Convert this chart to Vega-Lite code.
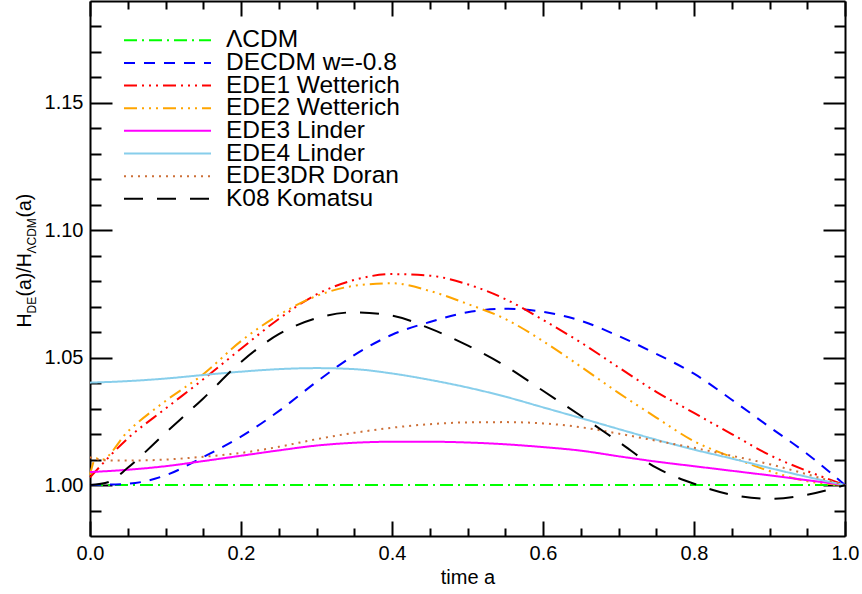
{
  "$schema": "https://vega.github.io/schema/vega-lite/v6.json",
  "width": 755,
  "height": 535,
  "autosize": "none",
  "padding": {"left": 90, "top": 1, "right": 17, "bottom": 58},
  "background": "white",
  "config": {"view": {"stroke": null}, "font": "Liberation Sans"},
  "data": {"values": [
    {"model": "ΛCDM", "a": 0, "H": 1.0},
    {"model": "ΛCDM", "a": 1, "H": 1.0},

    {"model": "DECDM w=-0.8", "a": 0, "H": 1.0},
    {"model": "DECDM w=-0.8", "a": 0.05, "H": 1.0005},
    {"model": "DECDM w=-0.8", "a": 0.1, "H": 1.0038},
    {"model": "DECDM w=-0.8", "a": 0.15, "H": 1.011},
    {"model": "DECDM w=-0.8", "a": 0.2, "H": 1.019},
    {"model": "DECDM w=-0.8", "a": 0.25, "H": 1.029},
    {"model": "DECDM w=-0.8", "a": 0.3, "H": 1.0405},
    {"model": "DECDM w=-0.8", "a": 0.35, "H": 1.051},
    {"model": "DECDM w=-0.8", "a": 0.4, "H": 1.059},
    {"model": "DECDM w=-0.8", "a": 0.45, "H": 1.064},
    {"model": "DECDM w=-0.8", "a": 0.5, "H": 1.0678},
    {"model": "DECDM w=-0.8", "a": 0.55, "H": 1.0692},
    {"model": "DECDM w=-0.8", "a": 0.6, "H": 1.068},
    {"model": "DECDM w=-0.8", "a": 0.65, "H": 1.0645},
    {"model": "DECDM w=-0.8", "a": 0.7, "H": 1.0585},
    {"model": "DECDM w=-0.8", "a": 0.75, "H": 1.0515},
    {"model": "DECDM w=-0.8", "a": 0.8, "H": 1.0437},
    {"model": "DECDM w=-0.8", "a": 0.85, "H": 1.0335},
    {"model": "DECDM w=-0.8", "a": 0.9, "H": 1.0228},
    {"model": "DECDM w=-0.8", "a": 0.95, "H": 1.0122},
    {"model": "DECDM w=-0.8", "a": 1.0, "H": 1.0},

    {"model": "EDE1 Wetterich", "a": 0, "H": 1.003},
    {"model": "EDE1 Wetterich", "a": 0.05, "H": 1.0183},
    {"model": "EDE1 Wetterich", "a": 0.1, "H": 1.030},
    {"model": "EDE1 Wetterich", "a": 0.15, "H": 1.0415},
    {"model": "EDE1 Wetterich", "a": 0.2, "H": 1.0535},
    {"model": "EDE1 Wetterich", "a": 0.25, "H": 1.0652},
    {"model": "EDE1 Wetterich", "a": 0.3, "H": 1.0748},
    {"model": "EDE1 Wetterich", "a": 0.35, "H": 1.0805},
    {"model": "EDE1 Wetterich", "a": 0.4, "H": 1.0828},
    {"model": "EDE1 Wetterich", "a": 0.45, "H": 1.0822},
    {"model": "EDE1 Wetterich", "a": 0.5, "H": 1.0788},
    {"model": "EDE1 Wetterich", "a": 0.55, "H": 1.073},
    {"model": "EDE1 Wetterich", "a": 0.6, "H": 1.0648},
    {"model": "EDE1 Wetterich", "a": 0.65, "H": 1.056},
    {"model": "EDE1 Wetterich", "a": 0.7, "H": 1.0462},
    {"model": "EDE1 Wetterich", "a": 0.75, "H": 1.0366},
    {"model": "EDE1 Wetterich", "a": 0.8, "H": 1.0283},
    {"model": "EDE1 Wetterich", "a": 0.85, "H": 1.020},
    {"model": "EDE1 Wetterich", "a": 0.9, "H": 1.0118},
    {"model": "EDE1 Wetterich", "a": 0.95, "H": 1.0055},
    {"model": "EDE1 Wetterich", "a": 1.0, "H": 1.0},

    {"model": "EDE2 Wetterich", "a": 0, "H": 1.004},
    {"model": "EDE2 Wetterich", "a": 0.008, "H": 1.0105},
    {"model": "EDE2 Wetterich", "a": 0.014, "H": 1.0098},
    {"model": "EDE2 Wetterich", "a": 0.05, "H": 1.021},
    {"model": "EDE2 Wetterich", "a": 0.1, "H": 1.033},
    {"model": "EDE2 Wetterich", "a": 0.15, "H": 1.0435},
    {"model": "EDE2 Wetterich", "a": 0.2, "H": 1.0565},
    {"model": "EDE2 Wetterich", "a": 0.25, "H": 1.0667},
    {"model": "EDE2 Wetterich", "a": 0.3, "H": 1.0742},
    {"model": "EDE2 Wetterich", "a": 0.35, "H": 1.0782},
    {"model": "EDE2 Wetterich", "a": 0.4, "H": 1.0792},
    {"model": "EDE2 Wetterich", "a": 0.45, "H": 1.0762},
    {"model": "EDE2 Wetterich", "a": 0.5, "H": 1.0711},
    {"model": "EDE2 Wetterich", "a": 0.55, "H": 1.0652},
    {"model": "EDE2 Wetterich", "a": 0.6, "H": 1.0565},
    {"model": "EDE2 Wetterich", "a": 0.65, "H": 1.0465},
    {"model": "EDE2 Wetterich", "a": 0.7, "H": 1.0362},
    {"model": "EDE2 Wetterich", "a": 0.75, "H": 1.0265},
    {"model": "EDE2 Wetterich", "a": 0.8, "H": 1.0172},
    {"model": "EDE2 Wetterich", "a": 0.85, "H": 1.011},
    {"model": "EDE2 Wetterich", "a": 0.9, "H": 1.0055},
    {"model": "EDE2 Wetterich", "a": 0.95, "H": 1.0015},
    {"model": "EDE2 Wetterich", "a": 1.0, "H": 1.0},

    {"model": "EDE3 Linder", "a": 0, "H": 1.0051},
    {"model": "EDE3 Linder", "a": 0.05, "H": 1.006},
    {"model": "EDE3 Linder", "a": 0.1, "H": 1.0074},
    {"model": "EDE3 Linder", "a": 0.15, "H": 1.0094},
    {"model": "EDE3 Linder", "a": 0.2, "H": 1.0115},
    {"model": "EDE3 Linder", "a": 0.25, "H": 1.0136},
    {"model": "EDE3 Linder", "a": 0.3, "H": 1.0155},
    {"model": "EDE3 Linder", "a": 0.35, "H": 1.0166},
    {"model": "EDE3 Linder", "a": 0.4, "H": 1.017},
    {"model": "EDE3 Linder", "a": 0.45, "H": 1.017},
    {"model": "EDE3 Linder", "a": 0.5, "H": 1.0167},
    {"model": "EDE3 Linder", "a": 0.55, "H": 1.016},
    {"model": "EDE3 Linder", "a": 0.6, "H": 1.0149},
    {"model": "EDE3 Linder", "a": 0.65, "H": 1.0135},
    {"model": "EDE3 Linder", "a": 0.7, "H": 1.0113},
    {"model": "EDE3 Linder", "a": 0.75, "H": 1.0092},
    {"model": "EDE3 Linder", "a": 0.8, "H": 1.0074},
    {"model": "EDE3 Linder", "a": 0.85, "H": 1.0056},
    {"model": "EDE3 Linder", "a": 0.9, "H": 1.0038},
    {"model": "EDE3 Linder", "a": 0.95, "H": 1.0019},
    {"model": "EDE3 Linder", "a": 1.0, "H": 1.0},

    {"model": "EDE4 Linder", "a": 0, "H": 1.0402},
    {"model": "EDE4 Linder", "a": 0.05, "H": 1.0408},
    {"model": "EDE4 Linder", "a": 0.1, "H": 1.0418},
    {"model": "EDE4 Linder", "a": 0.15, "H": 1.0432},
    {"model": "EDE4 Linder", "a": 0.2, "H": 1.0445},
    {"model": "EDE4 Linder", "a": 0.25, "H": 1.0455},
    {"model": "EDE4 Linder", "a": 0.3, "H": 1.0459},
    {"model": "EDE4 Linder", "a": 0.35, "H": 1.0455},
    {"model": "EDE4 Linder", "a": 0.4, "H": 1.0438},
    {"model": "EDE4 Linder", "a": 0.45, "H": 1.0413},
    {"model": "EDE4 Linder", "a": 0.5, "H": 1.0383},
    {"model": "EDE4 Linder", "a": 0.55, "H": 1.0347},
    {"model": "EDE4 Linder", "a": 0.6, "H": 1.0305},
    {"model": "EDE4 Linder", "a": 0.65, "H": 1.0263},
    {"model": "EDE4 Linder", "a": 0.7, "H": 1.022},
    {"model": "EDE4 Linder", "a": 0.75, "H": 1.0178},
    {"model": "EDE4 Linder", "a": 0.8, "H": 1.0139},
    {"model": "EDE4 Linder", "a": 0.85, "H": 1.0104},
    {"model": "EDE4 Linder", "a": 0.9, "H": 1.0067},
    {"model": "EDE4 Linder", "a": 0.95, "H": 1.0032},
    {"model": "EDE4 Linder", "a": 1.0, "H": 1.0},

    {"model": "EDE3DR Doran", "a": 0, "H": 1.0109},
    {"model": "EDE3DR Doran", "a": 0.02, "H": 1.0097},
    {"model": "EDE3DR Doran", "a": 0.05, "H": 1.0096},
    {"model": "EDE3DR Doran", "a": 0.1, "H": 1.010},
    {"model": "EDE3DR Doran", "a": 0.15, "H": 1.0111},
    {"model": "EDE3DR Doran", "a": 0.2, "H": 1.0126},
    {"model": "EDE3DR Doran", "a": 0.25, "H": 1.015},
    {"model": "EDE3DR Doran", "a": 0.3, "H": 1.018},
    {"model": "EDE3DR Doran", "a": 0.35, "H": 1.0205},
    {"model": "EDE3DR Doran", "a": 0.4, "H": 1.0225},
    {"model": "EDE3DR Doran", "a": 0.45, "H": 1.0239},
    {"model": "EDE3DR Doran", "a": 0.5, "H": 1.0246},
    {"model": "EDE3DR Doran", "a": 0.55, "H": 1.0247},
    {"model": "EDE3DR Doran", "a": 0.6, "H": 1.0242},
    {"model": "EDE3DR Doran", "a": 0.65, "H": 1.0227},
    {"model": "EDE3DR Doran", "a": 0.7, "H": 1.0202},
    {"model": "EDE3DR Doran", "a": 0.75, "H": 1.0174},
    {"model": "EDE3DR Doran", "a": 0.8, "H": 1.0146},
    {"model": "EDE3DR Doran", "a": 0.85, "H": 1.0115},
    {"model": "EDE3DR Doran", "a": 0.9, "H": 1.0082},
    {"model": "EDE3DR Doran", "a": 0.95, "H": 1.0042},
    {"model": "EDE3DR Doran", "a": 1.0, "H": 1.0},

    {"model": "K08 Komatsu", "a": 0, "H": 1.0},
    {"model": "K08 Komatsu", "a": 0.025, "H": 1.0012},
    {"model": "K08 Komatsu", "a": 0.05, "H": 1.0068},
    {"model": "K08 Komatsu", "a": 0.1, "H": 1.0205},
    {"model": "K08 Komatsu", "a": 0.15, "H": 1.034},
    {"model": "K08 Komatsu", "a": 0.2, "H": 1.0483},
    {"model": "K08 Komatsu", "a": 0.25, "H": 1.0592},
    {"model": "K08 Komatsu", "a": 0.3, "H": 1.0655},
    {"model": "K08 Komatsu", "a": 0.35, "H": 1.0678},
    {"model": "K08 Komatsu", "a": 0.4, "H": 1.0665},
    {"model": "K08 Komatsu", "a": 0.45, "H": 1.0615},
    {"model": "K08 Komatsu", "a": 0.5, "H": 1.0548},
    {"model": "K08 Komatsu", "a": 0.55, "H": 1.0468},
    {"model": "K08 Komatsu", "a": 0.6, "H": 1.037},
    {"model": "K08 Komatsu", "a": 0.65, "H": 1.0272},
    {"model": "K08 Komatsu", "a": 0.7, "H": 1.017},
    {"model": "K08 Komatsu", "a": 0.75, "H": 1.0068},
    {"model": "K08 Komatsu", "a": 0.8, "H": 1.0005},
    {"model": "K08 Komatsu", "a": 0.85, "H": 0.9962},
    {"model": "K08 Komatsu", "a": 0.9, "H": 0.9946},
    {"model": "K08 Komatsu", "a": 0.95, "H": 0.9962},
    {"model": "K08 Komatsu", "a": 1.0, "H": 1.0}
  ]},
  "resolve": {"axis": {"x": "independent", "y": "independent"}},
  "layer": [
    {
      "mark": {"type": "line", "strokeWidth": 2, "interpolate": "monotone"},
      "encoding": {
        "x": {"field": "a", "type": "quantitative",
          "scale": {"domain": [0, 1], "nice": false, "zero": false},
          "axis": {"orient": "bottom", "values": [0, 0.2, 0.4, 0.6, 0.8, 1], "format": ".1f",
            "tickSize": -15, "tickWidth": 2, "tickColor": "black", "domainColor": "black", "domainWidth": 2,
            "labelFontSize": 20, "labelFont": "Liberation Sans", "labelColor": "black", "labelPadding": 22,
            "labelFlush": false, "labelOverlap": false, "grid": false,
            "title": "time a", "titleFontSize": 20, "titleFont": "Liberation Sans", "titleFontWeight": "normal",
            "titleColor": "black", "titlePadding": 4}},
        "y": {"field": "H", "type": "quantitative",
          "scale": {"domain": [0.98, 1.19], "nice": false, "zero": false},
          "axis": {"orient": "left", "values": [1, 1.05, 1.1, 1.15], "format": ".2f",
            "tickSize": -22, "tickWidth": 2, "tickColor": "black", "domainColor": "black", "domainWidth": 2,
            "labelFontSize": 20, "labelFont": "Liberation Sans", "labelColor": "black", "labelPadding": 29,
            "labelFlush": false, "labelOverlap": false, "grid": false,
            "title": "H", "titleFontSize": 19.5, "titleFont": "Liberation Sans", "titleFontWeight": "normal",
            "titleColor": "black", "titleX": -60, "titleY": 326, "titleAngle": 270, "titleAlign": "left",
            "titleBaseline": "alphabetic"}},
        "color": {"field": "model", "type": "nominal",
          "scale": {"domain": ["ΛCDM", "DECDM w=-0.8", "EDE1 Wetterich", "EDE2 Wetterich", "EDE3 Linder", "EDE4 Linder", "EDE3DR Doran", "K08 Komatsu"],
            "range": ["#00ff00", "#0000ff", "#ff0000", "#ffa500", "#ff00ff", "#87ceeb", "#cd7038", "#000000"]},
          "legend": {"title": null, "orient": "none", "legendX": 33, "legendY": 29, "symbolType": "stroke",
            "symbolSize": 7569, "symbolStrokeWidth": 2, "clipHeight": 20.5, "rowPadding": -2.35,
            "labelFontSize": 24.5, "labelFont": "Liberation Sans", "labelColor": "black", "labelOffset": 14,
            "padding": 0, "labelLimit": 500}},
        "strokeDash": {"field": "model", "type": "nominal",
          "scale": {"domain": ["ΛCDM", "DECDM w=-0.8", "EDE1 Wetterich", "EDE2 Wetterich", "EDE3 Linder", "EDE4 Linder", "EDE3DR Doran", "K08 Komatsu"],
            "range": [[13, 5, 2, 5], [11, 9], [13, 5, 2, 5, 2, 5, 2, 5], [13, 5, 2, 5, 2, 5, 2, 5], [1, 0], [1, 0], [2, 5], [19, 14]]},
          "legend": {"title": null, "orient": "none", "legendX": 33, "legendY": 29, "symbolType": "stroke",
            "symbolSize": 7569, "symbolStrokeWidth": 2, "clipHeight": 20.5, "rowPadding": -2.35,
            "labelFontSize": 24.5, "labelFont": "Liberation Sans", "labelColor": "black", "labelOffset": 14,
            "padding": 0, "labelLimit": 500}}
      }
    },
    {
      "mark": {"type": "point", "opacity": 0},
      "encoding": {
        "x": {"field": "a", "type": "quantitative", "scale": {"domain": [0, 1], "nice": false, "zero": false},
          "axis": {"orient": "top", "values": [0, 0.2, 0.4, 0.6, 0.8, 1], "labels": false, "title": null,
            "tickSize": -15, "tickWidth": 2, "tickColor": "black", "domainColor": "black", "domainWidth": 2, "grid": false}},
        "y": {"field": "H", "type": "quantitative", "scale": {"domain": [0.98, 1.19], "nice": false, "zero": false},
          "axis": {"orient": "right", "values": [1, 1.05, 1.1, 1.15], "labels": false, "title": null,
            "tickSize": -22, "tickWidth": 2, "tickColor": "black", "domainColor": "black", "domainWidth": 2, "grid": false}}
      }
    },
    {
      "mark": {"type": "point", "opacity": 0},
      "encoding": {
        "x": {"field": "a", "type": "quantitative", "scale": {"domain": [0, 1], "nice": false, "zero": false},
          "axis": {"orient": "bottom", "values": [0.05, 0.1, 0.15, 0.25, 0.3, 0.35, 0.45, 0.5, 0.55, 0.65, 0.7, 0.75, 0.85, 0.9, 0.95],
            "labels": false, "title": null, "domain": false,
            "tickSize": -8, "tickWidth": 2, "tickColor": "black", "grid": false}},
        "y": {"field": "H", "type": "quantitative", "scale": {"domain": [0.98, 1.19], "nice": false, "zero": false},
          "axis": {"orient": "left", "values": [0.99, 1.01, 1.02, 1.03, 1.04, 1.06, 1.07, 1.08, 1.09, 1.11, 1.12, 1.13, 1.14, 1.16, 1.17, 1.18],
            "labels": false, "domain": false,
            "tickSize": -11, "tickWidth": 2, "tickColor": "black", "grid": false,
            "title": "DE", "titleFontSize": 12, "titleFont": "Liberation Sans", "titleFontWeight": "normal",
            "titleColor": "black", "titleX": -55, "titleY": 312, "titleAngle": 270, "titleAlign": "left",
            "titleBaseline": "alphabetic"}}
      }
    },
    {
      "mark": {"type": "point", "opacity": 0},
      "encoding": {
        "x": {"field": "a", "type": "quantitative", "scale": {"domain": [0, 1], "nice": false, "zero": false},
          "axis": {"orient": "top", "values": [0.05, 0.1, 0.15, 0.25, 0.3, 0.35, 0.45, 0.5, 0.55, 0.65, 0.7, 0.75, 0.85, 0.9, 0.95],
            "labels": false, "title": null, "domain": false,
            "tickSize": -8, "tickWidth": 2, "tickColor": "black", "grid": false}},
        "y": {"field": "H", "type": "quantitative", "scale": {"domain": [0.98, 1.19], "nice": false, "zero": false},
          "axis": {"orient": "right", "values": [0.99, 1.01, 1.02, 1.03, 1.04, 1.06, 1.07, 1.08, 1.09, 1.11, 1.12, 1.13, 1.14, 1.16, 1.17, 1.18],
            "labels": false, "title": null, "domain": false,
            "tickSize": -11, "tickWidth": 2, "tickColor": "black", "grid": false}}
      }
    },
    {
      "mark": {"type": "point", "opacity": 0},
      "encoding": {
        "x": {"field": "a", "type": "quantitative", "scale": {"domain": [0, 1], "nice": false, "zero": false}, "axis": null},
        "y": {"field": "H", "type": "quantitative", "scale": {"domain": [0.98, 1.19], "nice": false, "zero": false},
          "axis": {"orient": "left", "labels": false, "ticks": false, "domain": false, "grid": false,
            "title": "(a)/H", "titleFontSize": 19.5, "titleFont": "Liberation Sans", "titleFontWeight": "normal",
            "titleColor": "black", "titleX": -60, "titleY": 295, "titleAngle": 270, "titleAlign": "left",
            "titleBaseline": "alphabetic"}}
      }
    },
    {
      "mark": {"type": "point", "opacity": 0},
      "encoding": {
        "x": {"field": "a", "type": "quantitative", "scale": {"domain": [0, 1], "nice": false, "zero": false}, "axis": null},
        "y": {"field": "H", "type": "quantitative", "scale": {"domain": [0.98, 1.19], "nice": false, "zero": false},
          "axis": {"orient": "left", "labels": false, "ticks": false, "domain": false, "grid": false,
            "title": "ΛCDM", "titleFontSize": 12, "titleFont": "Liberation Sans", "titleFontWeight": "normal",
            "titleColor": "black", "titleX": -55, "titleY": 252, "titleAngle": 270, "titleAlign": "left",
            "titleBaseline": "alphabetic"}}
      }
    },
    {
      "mark": {"type": "point", "opacity": 0},
      "encoding": {
        "x": {"field": "a", "type": "quantitative", "scale": {"domain": [0, 1], "nice": false, "zero": false}, "axis": null},
        "y": {"field": "H", "type": "quantitative", "scale": {"domain": [0.98, 1.19], "nice": false, "zero": false},
          "axis": {"orient": "left", "labels": false, "ticks": false, "domain": false, "grid": false,
            "title": "(a)", "titleFontSize": 19.5, "titleFont": "Liberation Sans", "titleFontWeight": "normal",
            "titleColor": "black", "titleX": -60, "titleY": 216, "titleAngle": 270, "titleAlign": "left",
            "titleBaseline": "alphabetic"}}
      }
    }
  ]
}
